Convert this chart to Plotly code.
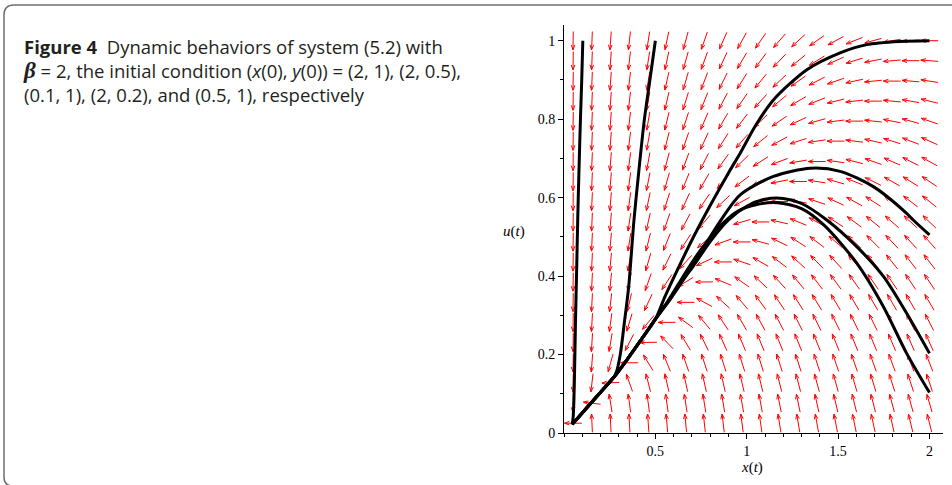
import numpy as np
import plotly.graph_objects as go

# ---------------- data ----------------
beta = 2.0            # from caption
# direction field: x' = -x (u + self_coef * x),  u' = x - beta * u  (coefficients estimated)
self_coef = 0.25

# direction-field grid (20 x 20)
field_x = [0.050, 0.153, 0.255, 0.358, 0.461, 0.563, 0.666, 0.768, 0.871, 0.974,
           1.076, 1.179, 1.282, 1.384, 1.487, 1.589, 1.692, 1.795, 1.897, 2.000]
field_u = [0.025, 0.076, 0.128, 0.179, 0.231, 0.282, 0.333, 0.385, 0.436, 0.487,
           0.538, 0.590, 0.641, 0.692, 0.744, 0.795, 0.846, 0.897, 0.949, 1.000]

# common slow-manifold tail (towards origin)
tail_x = [0.500, 0.430, 0.350, 0.276, 0.200, 0.120, 0.045]
tail_u = [0.290, 0.243, 0.190, 0.144, 0.104, 0.062, 0.022]

# trajectories (start points from caption / picture)
traj_A_x = [0.103, 0.097, 0.090, 0.082, 0.075, 0.069, 0.063, 0.058, 0.054, 0.050, 0.045]
traj_A_u = [1.000, 0.900, 0.800, 0.670, 0.543, 0.410, 0.288, 0.160, 0.080, 0.040, 0.022]

traj_B_x = [0.500, 0.470, 0.440, 0.410, 0.383, 0.354, 0.330, 0.309, 0.290, 0.276]
traj_B_u = [1.000, 0.900, 0.800, 0.670, 0.543, 0.373, 0.280, 0.203, 0.160, 0.144]

traj_C_x = [2.000, 1.840, 1.657, 1.511, 1.329, 1.146, 1.050, 0.964, 0.900, 0.800, 0.700, 0.620, 0.550]
traj_C_u = [1.000, 0.998, 0.990, 0.969, 0.926, 0.849, 0.785, 0.713, 0.663, 0.580, 0.492, 0.415, 0.345]

traj_D_x = [2.000, 1.911, 1.875, 1.693, 1.511, 1.350, 1.146, 0.964, 0.855, 0.746, 0.660, 0.580]
traj_D_u = [0.505, 0.543, 0.560, 0.628, 0.667, 0.675, 0.654, 0.607, 0.540, 0.459, 0.395, 0.340]

traj_E_x = [2.000, 1.875, 1.748, 1.602, 1.438, 1.300, 1.200, 1.100, 1.000, 0.900, 0.800, 0.700, 0.630, 0.570]
traj_E_u = [0.203, 0.305, 0.399, 0.475, 0.543, 0.585, 0.598, 0.596, 0.578, 0.543, 0.488, 0.420, 0.378, 0.335]

traj_F_x = [2.000, 1.875, 1.748, 1.602, 1.420, 1.300, 1.170, 1.050, 0.950, 0.850, 0.750, 0.680, 0.620, 0.560]
traj_F_u = [0.103, 0.203, 0.322, 0.433, 0.531, 0.572, 0.587, 0.582, 0.565, 0.525, 0.468, 0.420, 0.375, 0.330]

x_tick_vals = [0.5, 1, 1.5, 2]
x_tick_text = ["0.5", "1", "1.5", "2"]
y_tick_vals = [0, 0.2, 0.4, 0.6, 0.8, 1]
y_tick_text = ["0", "0.2", "0.4", "0.6", "0.8", "1"]

caption_lines = [
    "<b>Figure 4</b>  Dynamic behaviors of system (5.2) with",
    "<span style=\"font-family:'Liberation Serif'; font-size:23px\"><b><i>β</i></b></span> = 2, the initial condition (<i>x</i>(0), <i>y</i>(0)) = (2, 1), (2, 0.5),",
    "(0.1, 1), (2, 0.2), and (0.5, 1), respectively",
]

# ---------------- layout geometry ----------------
W, H = 952, 485
ML, MR, MT, MB = 564, 9, 25, 52
PW, PH = W - ML - MR, H - MT - MB
XR = [0, 2.074]
YR = [0, 1.04]
sx = PW / (XR[1] - XR[0])
sy = PH / (YR[1] - YR[0])


def px_to_paper(px):
    return (px - ML) / PW


def py_to_paper(py):
    return (H - MB - py) / PH


fig = go.Figure()

# ---------------- direction field ----------------
dxg = field_x[1] - field_x[0]
dug = field_u[1] - field_u[0]
ax_list, ay_list = [], []
head_len, head_w = 5.0, 1.8
for gx in field_x:
    for gu in field_u:
        vx = -gx * (gu + self_coef * gx)
        vu = gx - beta * gu
        a, b = vx / dxg, vu / dug
        n = np.hypot(a, b)
        if n == 0:
            continue
        pxv = 0.92 * a / n * dxg * sx
        pyv = 0.92 * b / n * dug * sy
        L = np.hypot(pxv, pyv)
        ux, uy = pxv / L, pyv / L
        tx, ty = gx + 0.5 * pxv / sx, gu + 0.5 * pyv / sy
        bx, by = gx - 0.5 * pxv / sx, gu - 0.5 * pyv / sy
        ax_list += [bx, tx, None]
        ay_list += [by, ty, None]
        for sgn in (1, -1):
            hx = -head_len * ux + sgn * head_w * (-uy)
            hy = -head_len * uy + sgn * head_w * ux
            ax_list += [tx, tx + hx / sx, None]
            ay_list += [ty, ty + hy / sy, None]

fig.add_trace(go.Scatter(x=ax_list, y=ay_list, mode="lines",
                         line=dict(color="#ff0000", width=1),
                         hoverinfo="skip", showlegend=False))

# ---------------- trajectories ----------------
trajs = [
    (traj_A_x, traj_A_u),
    (traj_B_x + tail_x[3:], traj_B_u + tail_u[3:]),
    (traj_C_x + tail_x, traj_C_u + tail_u),
    (traj_D_x + tail_x, traj_D_u + tail_u),
    (traj_E_x + tail_x, traj_E_u + tail_u),
    (traj_F_x + tail_x, traj_F_u + tail_u),
]
for tx_, tu_ in trajs:
    fig.add_trace(go.Scatter(x=tx_, y=tu_, mode="lines",
                             line=dict(color="black", width=3, shape="spline", smoothing=0.8),
                             hoverinfo="skip", showlegend=False))

tick_font = dict(family="Liberation Serif", size=14, color="black")
fig.update_xaxes(range=XR, showline=True, linecolor="black", linewidth=1,
                 ticks="outside", ticklen=5, tickwidth=1, tickcolor="black",
                 tickvals=x_tick_vals, ticktext=x_tick_text, tickfont=tick_font,
                 showgrid=False, zeroline=False,
                 minor=dict(dtick=0.1, tick0=0, ticks="outside", ticklen=3,
                            tickcolor="black", tickwidth=1, showgrid=False))
fig.update_yaxes(range=YR, showline=True, linecolor="black", linewidth=1,
                 ticks="outside", ticklen=5, tickwidth=1, tickcolor="black",
                 tickvals=y_tick_vals, ticktext=y_tick_text, tickfont=tick_font,
                 showgrid=False, zeroline=False,
                 minor=dict(dtick=0.1, tick0=0, ticks="outside", ticklen=3,
                            tickcolor="black", tickwidth=1, showgrid=False))

annotations = [
    dict(text="<i>x</i>(<i>t</i>)", x=px_to_paper(751.5), y=py_to_paper(467.5),
         xref="paper", yref="paper", showarrow=False, xanchor="center", yanchor="middle",
         font=dict(family="Liberation Serif", size=15, color="black")),
    dict(text="<i>u</i>(<i>t</i>)", x=px_to_paper(514), y=py_to_paper(231.5),
         xref="paper", yref="paper", showarrow=False, xanchor="center", yanchor="middle",
         font=dict(family="Liberation Serif", size=15, color="black")),
    dict(text="<br>".join(caption_lines), x=px_to_paper(21), y=py_to_paper(70),
         xref="paper", yref="paper", showarrow=False,
         xanchor="left", yanchor="middle", align="left",
         font=dict(family="Open Sans", size=18.5, color="#231f20")),
]


def P(px, py):
    return f"{px_to_paper(px):.5f},{py_to_paper(py):.5f}"


box_path = (f"M {P(960, 5)} L {P(14, 5)} Q {P(4, 5)} {P(4, 15)} "
            f"L {P(4, 477)} Q {P(4, 486)} {P(13, 486)} L {P(960, 486)}")

fig.update_layout(
    width=W, height=H,
    margin=dict(l=ML, r=MR, t=MT, b=MB),
    paper_bgcolor="white", plot_bgcolor="white",
    showlegend=False,
    annotations=annotations,
    shapes=[dict(type="path", path=box_path, xref="paper", yref="paper",
                 line=dict(color="#6d6e70", width=1.5))],
)

fig.write_html("out.html")
